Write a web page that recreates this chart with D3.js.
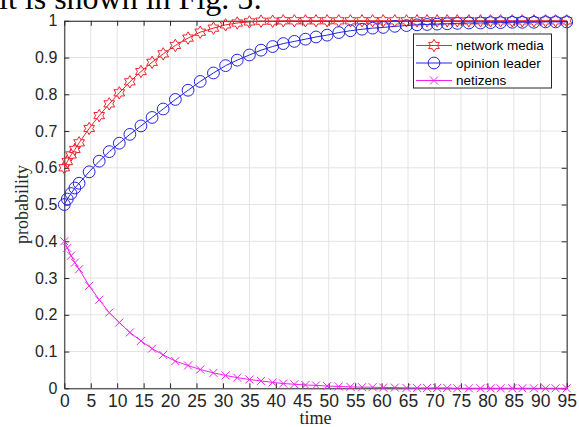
<!DOCTYPE html>
<html>
<head>
<meta charset="utf-8">
<script src="https://cdn.jsdelivr.net/npm/d3@7"></script>
<style>
  html, body { margin: 0; padding: 0; background: #fff; }
  #chart { width: 579px; height: 427px; overflow: hidden; }
  .tick text { font-family: "Liberation Sans", Arial, sans-serif; font-size: 16px; fill: #262626; }
  .xaxis .tick text { font-size: 17.5px; }
  .label { font-family: "Liberation Serif", "Times New Roman", serif; font-size: 18px; fill: #262626; }
</style>
</head>
<body>
<div id="chart"></div>
<script>
// time steps of the solver output (shared by all three series)
const time = [0, 0.57, 1.27, 2.0, 2.8, 4.7, 6.6, 8.5, 10.4, 12.4, 14.5, 16.6, 18.7, 21.0, 23.4, 25.7,
  28.2, 30.5, 32.7, 35.0, 37.2, 39.4, 41.4, 43.5, 45.6, 47.6, 49.7, 51.9, 54.1, 56.3, 58.3, 60.3,
  62.5, 64.7, 66.7, 68.6, 70.5, 72.4, 74.3, 76.5, 78.7, 80.6, 82.5, 84.7, 86.6, 88.8, 91.0, 92.9, 95.0];

const networkMedia = [0.600, 0.617, 0.635, 0.650, 0.668, 0.707, 0.742, 0.774, 0.804, 0.834, 0.862, 0.887,
  0.910, 0.933, 0.953, 0.969, 0.980, 0.989, 0.994, 0.997, 0.999, 0.999, 1, 1, 1, 1, 1, 1, 1, 1, 1, 1,
  1, 1, 1, 1, 1, 1, 1, 1, 1, 1, 1, 1, 1, 1, 1, 1, 1];

const opinionLeader = [0.500, 0.515, 0.530, 0.545, 0.558, 0.589, 0.618, 0.644, 0.667, 0.691, 0.714, 0.737,
  0.760, 0.786, 0.811, 0.835, 0.858, 0.878, 0.893, 0.907, 0.920, 0.930, 0.938, 0.944, 0.950, 0.956,
  0.961, 0.968, 0.973, 0.977, 0.980, 0.982, 0.985, 0.987, 0.989, 0.990, 0.991, 0.992, 0.993, 0.994,
  0.994, 0.995, 0.995, 0.996, 0.996, 0.996, 0.997, 0.997, 0.997];

const netizens = [0.400, 0.382, 0.361, 0.342, 0.324, 0.279, 0.241, 0.206, 0.179, 0.152, 0.129, 0.108,
  0.091, 0.074, 0.062, 0.051, 0.042, 0.035, 0.029, 0.024, 0.020, 0.016, 0.013, 0.011, 0.009, 0.008,
  0.006, 0.005, 0.004, 0.003, 0.003, 0.002, 0.002, 0.001, 0.001, 0.001, 0.001, 0.001, 0, 0, 0, 0,
  0, 0, 0, 0, 0, 0, 0];

const seriesNames = ["network media", "opinion leader", "netizens"];
const xTicks = [0, 5, 10, 15, 20, 25, 30, 35, 40, 45, 50, 55, 60, 65, 70, 75, 80, 85, 90, 95];
const yTicks = [0, 0.1, 0.2, 0.3, 0.4, 0.5, 0.6, 0.7, 0.8, 0.9, 1];

(() => {
  const width = 579, height = 427;
  const left = 64.3, right = 566.7, top = 20.8, bottom = 388.3;
  const axisColor = "#262626", gridColor = "#e3e3e3";

  const svg = d3.select("#chart").append("svg")
    .attr("width", width).attr("height", height);

  // leftover line of the paper text above the figure, clipped at the top
  svg.append("text")
    .attr("x", -1).attr("y", 9)
    .style("font-family", "'Liberation Serif', serif")
    .style("font-size", "32px")
    .text("it is shown in Fig. 5:");

  const x = d3.scaleLinear().domain([0, 95]).range([left, right]);
  const y = d3.scaleLinear().domain([0, 1]).range([bottom, top]);

  // grid
  const grid = svg.append("g").attr("stroke", gridColor).attr("stroke-width", 1);
  grid.selectAll(".gx").data(xTicks).enter().append("line")
    .attr("x1", d => x(d)).attr("x2", d => x(d)).attr("y1", top).attr("y2", bottom);
  grid.selectAll(".gy").data(yTicks).enter().append("line")
    .attr("x1", left).attr("x2", right).attr("y1", d => y(d)).attr("y2", d => y(d));

  // axes with inward ticks (matlab style)
  const fmt = d => d === 0 ? "0" : d === 1 ? "1" : d.toFixed(1);
  const styleAxis = g => {
    g.select(".domain").attr("stroke", axisColor);
    g.selectAll(".tick line").attr("stroke", axisColor);
    g.selectAll(".tick text").attr("font-size", null).attr("font-family", null);
  };
  svg.append("g").attr("class", "xaxis").attr("transform", `translate(0,${bottom})`)
    .call(d3.axisBottom(x).tickValues(xTicks).tickSizeInner(-5).tickSizeOuter(0).tickPadding(6))
    .call(styleAxis);
  svg.append("g").attr("transform", `translate(${left},0)`)
    .call(d3.axisLeft(y).tickValues(yTicks).tickFormat(fmt).tickSizeInner(-5).tickSizeOuter(0).tickPadding(7))
    .call(styleAxis);
  svg.append("g").attr("transform", `translate(0,${top})`)
    .call(d3.axisTop(x).tickValues(xTicks).tickFormat("").tickSizeInner(-5).tickSizeOuter(0))
    .call(styleAxis);
  svg.append("g").attr("transform", `translate(${right},0)`)
    .call(d3.axisRight(y).tickValues(yTicks).tickFormat("").tickSizeInner(-5).tickSizeOuter(0))
    .call(styleAxis);

  // axis labels
  svg.append("text").attr("class", "label")
    .attr("text-anchor", "middle")
    .attr("transform", `translate(28,${(top + bottom) / 2}) rotate(-90)`)
    .text("probability");
  svg.append("text").attr("class", "label")
    .attr("text-anchor", "middle")
    .attr("x", (left + right) / 2).attr("y", 424)
    .text("time");

  // marker shapes
  const hexagram = (cx, cy, R) => {
    const r = R / Math.sqrt(3);
    const pts = d3.range(12).map(i => {
      const a = -Math.PI / 2 + i * Math.PI / 6;
      const rr = i % 2 === 0 ? R : r;
      return [cx + rr * Math.cos(a), cy + rr * Math.sin(a)];
    });
    return "M" + pts.join("L") + "Z";
  };
  const cross = (cx, cy, s) =>
    `M${cx - s},${cy - s}L${cx + s},${cy + s}M${cx - s},${cy + s}L${cx + s},${cy - s}`;
  const circle = (cx, cy, r) =>
    `M${cx - r},${cy}A${r},${r} 0 1,0 ${cx + r},${cy}A${r},${r} 0 1,0 ${cx - r},${cy}`;

  const series = [
    { name: seriesNames[0], values: networkMedia, color: "#f2202a", marker: (a, b) => hexagram(a, b, 6.2) },
    { name: seriesNames[1], values: opinionLeader, color: "#2424e0", marker: (a, b) => circle(a, b, 5.9) },
    { name: seriesNames[2], values: netizens, color: "#ee22ee", marker: (a, b) => cross(a, b, 4) }
  ];

  const line = d3.line().x(d => x(d[0])).y(d => y(d[1]));

  const plot = svg.append("g");
  series.forEach(s => {
    const pts = time.map((t, i) => [t, s.values[i]]);
    const g = plot.append("g").attr("stroke", s.color).attr("fill", "none").attr("stroke-width", 1);
    g.append("path").attr("d", line(pts));
    g.selectAll(".m").data(pts).enter().append("path")
      .attr("d", d => s.marker(x(d[0]), y(d[1])));
  });

  // legend
  const lg = svg.append("g");
  lg.append("rect")
    .attr("x", 413.5).attr("y", 34).attr("width", 138).attr("height", 54)
    .attr("fill", "#fff").attr("stroke", axisColor).attr("stroke-width", 1);
  series.forEach((s, i) => {
    const ly = 45.5 + i * 17.5;
    const row = lg.append("g").attr("stroke", s.color).attr("fill", "none");
    row.append("line").attr("x1", 416).attr("x2", 452).attr("y1", ly).attr("y2", ly);
    row.append("path").attr("d", s.marker(434, ly));
    lg.append("text")
      .attr("x", 456).attr("y", ly).attr("dy", "0.35em")
      .style("font-family", "'Liberation Sans', Arial, sans-serif")
      .style("font-size", "13.5px").attr("fill", "#000")
      .text(s.name);
  });
})();
</script>
</body>
</html>
